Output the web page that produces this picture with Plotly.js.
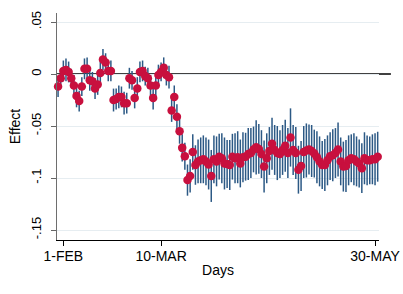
<!DOCTYPE html>
<html>
<head>
<meta charset="utf-8">
<script src="https://cdn.plot.ly/plotly-3.0.1.min.js"></script>
<style>html,body{margin:0;padding:0;background:#fff;}#chart{width:403px;height:294px;}</style>
</head>
<body>
<div id="chart"></div>
<script>
// Day index (0 = 1-FEB), first observation two days earlier
const startDay = -2;
const effect = [
  -0.012, -0.004, 0.003, 0.004, 0.002, -0.004, -0.011, -0.021, -0.026, -0.012,
  0.005, 0.005, -0.006, -0.007, -0.014, -0.010, 0.001, 0.014, 0.011, 0.003,
  0.003, -0.025, -0.024, -0.022, -0.022, -0.028, -0.028, -0.004, -0.006, -0.023,
  -0.014, 0.002, 0.003, -0.002, -0.004, -0.011, -0.023, -0.011, -0.001, 0.002,
  0.006, -0.001, -0.003, -0.035, -0.022, -0.041, -0.055, -0.071, -0.079, -0.102,
  -0.098, -0.075, -0.0875, -0.084, -0.083, -0.082, -0.084, -0.087, -0.098, -0.082,
  -0.084, -0.0795, -0.081, -0.086, -0.0865, -0.0875, -0.0795, -0.081, -0.080, -0.086,
  -0.080, -0.0795, -0.077, -0.076, -0.0725, -0.0705, -0.072, -0.077, -0.089, -0.081,
  -0.074, -0.067, -0.073, -0.076, -0.077, -0.073, -0.069, -0.076, -0.061, -0.073,
  -0.076, -0.092, -0.0885, -0.075, -0.0735, -0.0725, -0.074, -0.0765, -0.080, -0.084,
  -0.0875, -0.0875, -0.083, -0.079, -0.078, -0.076, -0.0725, -0.084, -0.089, -0.0885,
  -0.083, -0.081, -0.082, -0.084, -0.086, -0.0905, -0.081, -0.083, -0.083, -0.082,
  -0.082, -0.0795
];
const ciHalf = [
  0.010, 0.009, 0.010, 0.011, 0.010, 0.009, 0.010, 0.011, 0.010, 0.009,
  0.010, 0.011, 0.010, 0.009, 0.010, 0.010, 0.011, 0.010, 0.009, 0.010,
  0.010, 0.011, 0.010, 0.011, 0.010, 0.011, 0.010, 0.010, 0.009, 0.010,
  0.011, 0.010, 0.010, 0.009, 0.010, 0.010, 0.011, 0.010, 0.010, 0.009,
  0.010, 0.010, 0.011, 0.011, 0.011, 0.012, 0.012, 0.013, 0.013, 0.015,
  0.016, 0.017, 0.019, 0.021, 0.022, 0.023, 0.023, 0.024, 0.025, 0.023,
  0.024, 0.022, 0.024, 0.025, 0.023, 0.024, 0.022, 0.024, 0.025, 0.023,
  0.024, 0.023, 0.025, 0.024, 0.022, 0.026, 0.024, 0.023, 0.025, 0.024,
  0.023, 0.025, 0.024, 0.026, 0.023, 0.024, 0.025, 0.024, 0.028, 0.024,
  0.025, 0.023, 0.024, 0.025, 0.026, 0.024, 0.025, 0.023, 0.025, 0.024,
  0.023, 0.025, 0.024, 0.023, 0.025, 0.024, 0.026, 0.023, 0.024, 0.025,
  0.024, 0.023, 0.025, 0.024, 0.023, 0.024, 0.025, 0.024, 0.023, 0.024,
  0.025, 0.024
];
const tickDays = [0, 37, 118];
const tickLabels = ['1-FEB', '10-MAR', '30-MAY'];
const yTickVals = [-0.15, -0.1, -0.05, 0, 0.05];
const yTickLabels = ['-.15', '-.1', '-.05', '0', '.05'];

const days = effect.map((_, i) => startDay + i);

const trace = {
  type: 'scatter',
  mode: 'markers',
  x: days,
  y: effect,
  cliponaxis: false,
  marker: {color: '#c8103e', size: 8.5, line: {width: 0}},
  error_y: {type: 'data', array: ciHalf, visible: true, color: '#2c5985', thickness: 1.5, width: 0},
  hoverinfo: 'skip'
};

const layout = {
  width: 403, height: 294,
  margin: {l: 57, r: 24, t: 13, b: 54, pad: 0},
  paper_bgcolor: '#ffffff', plot_bgcolor: 'rgba(0,0,0,0)',
  font: {family: 'Liberation Sans, Arial, sans-serif', color: '#000'},
  showlegend: false,
  xaxis: {
    range: [-2.4, 119.5],
    tickvals: tickDays, ticktext: tickLabels,
    ticks: 'outside', ticklen: 5, tickcolor: '#000', tickwidth: 1,
    showgrid: false, zeroline: false,
    showline: true, linecolor: '#000', linewidth: 1,
    tickfont: {size: 14},
    ticklabelstandoff: -2,
    title: {text: 'Days', font: {size: 14}, standoff: 2}
  },
  yaxis: {
    range: [-0.1596, 0.0587],
    tickvals: yTickVals, ticktext: yTickLabels,
    tickangle: -90,
    ticks: 'outside', ticklen: 5, tickcolor: '#666', tickwidth: 1,
    showgrid: true, gridcolor: '#e6edf1', gridwidth: 1,
    zeroline: false,
    showline: true, linecolor: '#6e6e6e', linewidth: 1.3,
    tickfont: {size: 13},
    ticklabelstandoff: 5,
    title: {text: 'Effect', font: {size: 14}, standoff: 4}
  },
  shapes: [{
    type: 'line', xref: 'paper', yref: 'y',
    x0: 0, x1: 1.037, y0: 0, y1: 0,
    line: {color: '#000', width: 1.4},
    layer: 'between'
  }]
};

Plotly.newPlot('chart', [trace], layout, {displayModeBar: false, staticPlot: true});
</script>
</body>
</html>
